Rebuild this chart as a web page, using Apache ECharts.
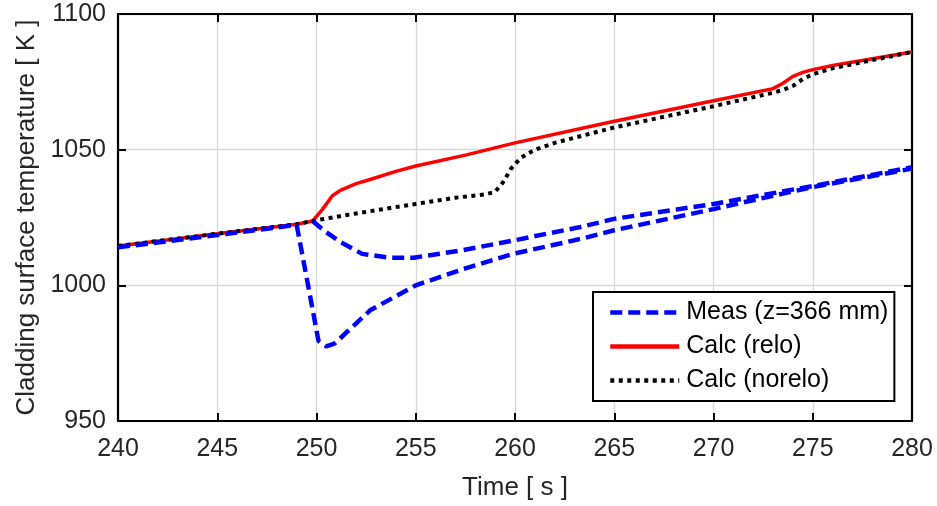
<!DOCTYPE html>
<html>
<head>
<meta charset="utf-8">
<script src="https://cdn.jsdelivr.net/npm/echarts@6/dist/echarts.min.js"></script>
<style>html,body{margin:0;padding:0;background:#fff}#c{width:937px;height:506px}</style>
</head>
<body>
<div id="c"></div>
<script>
// ---- data ----
var xTicks = [240, 245, 250, 255, 260, 265, 270, 275, 280];
var yTicks = [950, 1000, 1050, 1100];

var reloT = [240, 245, 249, 249.8, 250.3, 250.8, 251.2, 252, 252.7, 254, 255, 257.5, 260, 265, 270, 273, 273.5, 274, 274.5, 275, 276, 278, 280];
var reloV = [1014.5, 1019, 1022.5, 1023.7, 1028, 1033, 1035, 1037.5, 1039, 1042, 1044, 1048, 1052.5, 1060.5, 1068, 1072.5, 1074.5, 1077, 1078.5, 1079.5, 1081, 1083.5, 1086];

var noreloT = [240, 245, 249, 250, 252, 255, 257, 258.5, 259, 259.4, 259.8, 260.3, 261, 262, 265, 270, 273, 273.5, 274, 274.5, 275, 276, 278, 280];
var noreloV = [1014.5, 1019, 1022.5, 1024, 1026.5, 1030, 1032.3, 1033.5, 1034.5, 1038, 1043, 1047, 1050, 1052.5, 1058.2, 1066, 1071, 1072, 1073.5, 1076, 1077.8, 1080, 1083, 1086];

var measAT = [240, 245, 249, 249.5, 250.1, 250.5, 250.9, 251.2, 252, 252.7, 254, 255, 257.4, 259.9, 263.3, 265, 270, 273, 275, 280];
var measAV = [1014, 1018.5, 1022.3, 1003, 979.5, 977.5, 978.5, 980.5, 986, 990.8, 996, 1000, 1006, 1011.6, 1017.1, 1020.3, 1028.1, 1033, 1036.2, 1043];

var measBT = [249.8, 250.5, 251.2, 252.3, 253.7, 254.9, 257.4, 259.9, 263.3, 265, 270, 275, 280];
var measBV = [1023.7, 1019.5, 1016, 1011.6, 1010.2, 1010.2, 1013, 1016.5, 1021.5, 1024.5, 1030, 1036.6, 1043.5];

var names = ['Meas (z=366 mm)', 'Calc (relo)', 'Calc (norelo)'];

function pairs(t, v) { return t.map(function (x, i) { return [x, v[i]]; }); }

var FONT = "'Liberation Sans', Arial, Helvetica, sans-serif";
var chart = echarts.init(document.getElementById('c'), null, { renderer: 'canvas' });

var axisCommon = {
  axisLine: { show: true, lineStyle: { color: '#000', width: 2.2 } },
  axisTick: { show: true, inside: true, length: 8, lineStyle: { color: '#000', width: 2 } }
};

chart.setOption({
  animation: false,
  backgroundColor: '#fff',
  grid: { left: 118, right: 25, top: 14, bottom: 83, containLabel: false },
  legend: {
    data: names,
    orient: 'vertical',
    left: 593, top: 292,
    padding: [8, 6, 8, 15],
    itemGap: 9,
    itemWidth: 69,
    itemHeight: 14,
    backgroundColor: '#fff',
    borderColor: '#000',
    borderWidth: 2,
    selectedMode: false,
    itemStyle: { opacity: 0 },
    lineStyle: { width: 4.5 },
    textStyle: { fontFamily: FONT, fontSize: 25, color: '#000', lineHeight: 25, padding: [0, 0, 0, 2] }
  },
  xAxis: [
    Object.assign({}, axisCommon, {
      type: 'value', min: 240, max: 280, interval: 5, position: 'bottom',
      name: 'Time [ s ]', nameLocation: 'middle', nameGap: 54,
      nameTextStyle: { fontFamily: FONT, fontSize: 26, color: '#262626' },
      axisLabel: { fontFamily: FONT, fontSize: 25, color: '#262626', margin: 16,
        formatter: function (v) { return xTicks.indexOf(v) >= 0 ? String(v) : ''; } },
      splitLine: { show: true, lineStyle: { color: '#d8d8d8', width: 1.3 } }
    }),
    Object.assign({}, axisCommon, {
      type: 'value', min: 240, max: 280, interval: 5, position: 'top',
      axisLabel: { show: false }, splitLine: { show: false }
    })
  ],
  yAxis: [
    Object.assign({}, axisCommon, {
      type: 'value', min: 950, max: 1100, interval: 50, position: 'left',
      name: 'Cladding surface temperature [ K ]', nameLocation: 'middle', nameGap: 78,
      nameTextStyle: { fontFamily: FONT, fontSize: 26, color: '#262626' },
      axisLabel: { fontFamily: FONT, fontSize: 25, color: '#262626', margin: 12,
        formatter: function (v) { return yTicks.indexOf(v) >= 0 ? String(v) : ''; } },
      splitLine: { show: true, lineStyle: { color: '#d8d8d8', width: 1.3 } }
    }),
    Object.assign({}, axisCommon, {
      type: 'value', min: 950, max: 1100, interval: 50, position: 'right',
      axisLabel: { show: false }, splitLine: { show: false }
    })
  ],
  series: [
    { name: names[1], type: 'line', data: pairs(reloT, reloV), symbol: 'none', z: 2,
      lineStyle: { color: '#ff0000', width: 3.5 }, itemStyle: { color: '#ff0000' } },
    { name: names[2], type: 'line', data: pairs(noreloT, noreloV), symbol: 'none', z: 3,
      lineStyle: { color: '#000', width: 4, type: [4, 4.5] }, itemStyle: { color: '#000' } },
    { name: names[0], type: 'line', data: pairs(measAT, measAV), symbol: 'none', z: 4,
      lineStyle: { color: '#0000ff', width: 4.5, type: [12, 6] }, itemStyle: { color: '#0000ff' } },
    { name: names[0], type: 'line', data: pairs(measBT, measBV), symbol: 'none', z: 4,
      lineStyle: { color: '#0000ff', width: 4.5, type: [12, 6] }, itemStyle: { color: '#0000ff' } }
  ]
});
</script>
</body>
</html>
